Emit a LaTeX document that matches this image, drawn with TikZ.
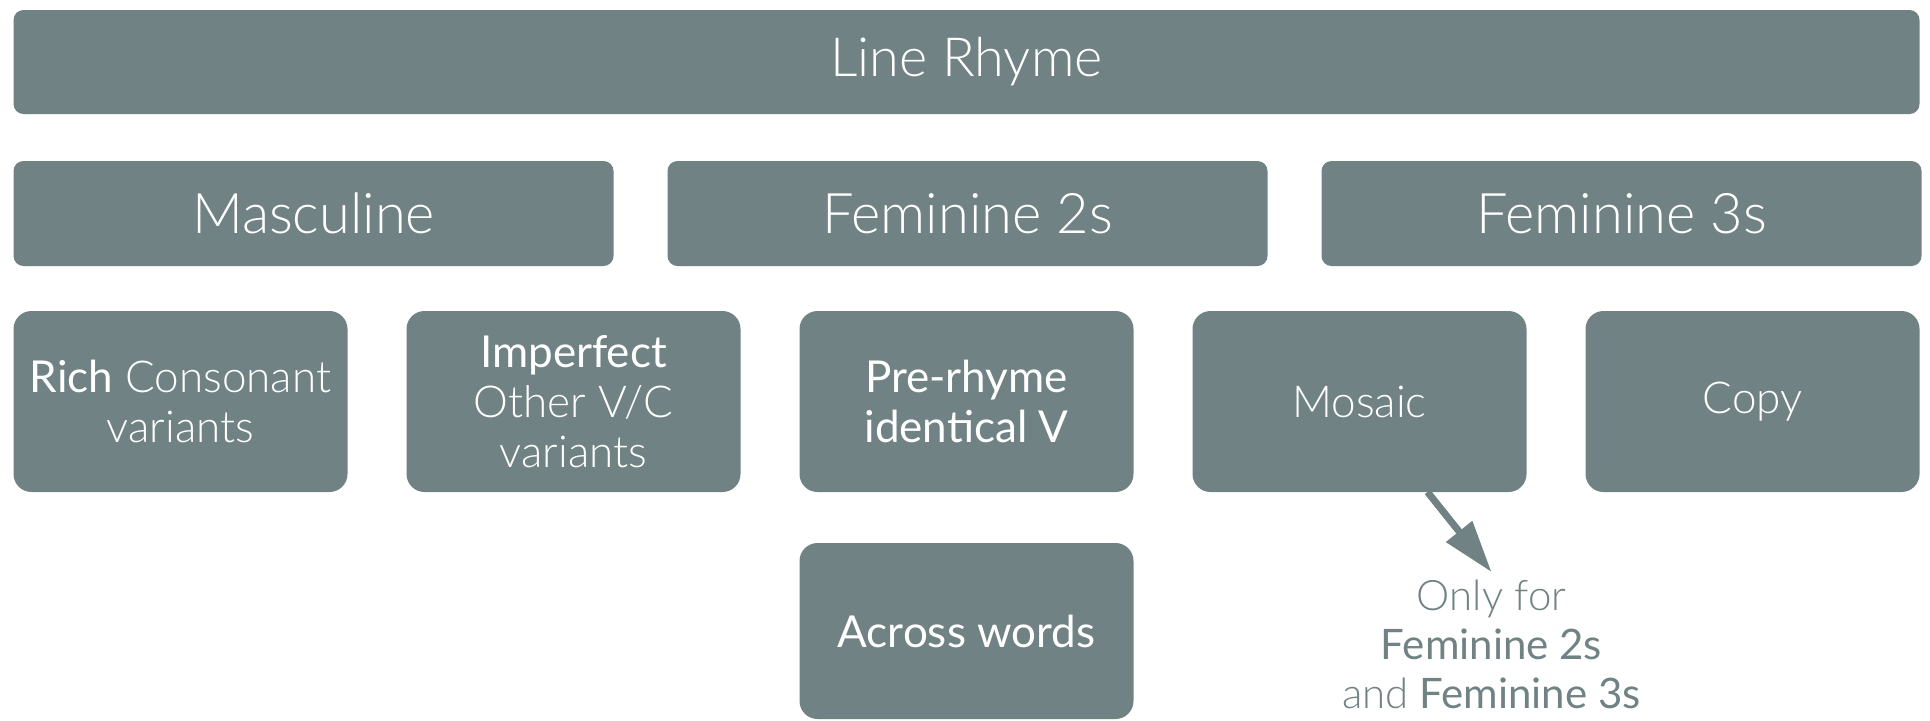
\documentclass[tikz,border=0pt]{standalone}
\usepackage{fontspec}
\usepackage{xcolor}
\usetikzlibrary{positioning,arrows.meta}
\setmainfont{Lato}
\newfontfamily\bookfont{Lato}
\newfontfamily\lightfont{Lato Light}
\definecolor{RhymeGray}{HTML}{708283}

\begin{document}
\begin{tikzpicture}[
    topbox/.style={fill=RhymeGray, text=white, rounded corners=5pt, outer sep=0pt,
      minimum width=953pt, minimum height=52pt, font=\lightfont\fontsize{27}{30}\selectfont},
    group/.style={topbox, minimum width=300pt, minimum height=52.5pt,
      font=\lightfont\fontsize{28}{30}\selectfont},
    kind/.style={fill=RhymeGray, text=white, rounded corners=9pt, outer sep=0pt,
      minimum width=167pt, minimum height=90.5pt, align=center,
      font=\lightfont\fontsize{22}{25}\selectfont},
    kindbook/.style={kind, font=\bookfont\fontsize{22}{25}\selectfont},
    note/.style={align=center, text=RhymeGray, inner sep=4pt,
      font=\bookfont\fontsize{21}{24.5}\selectfont},
    arrow/.style={-{Triangle[length=26pt, width=16pt]}, line width=3.5pt, color=RhymeGray}
  ]
    \useasboundingbox (0,0) rectangle (965pt,-360pt);
    \node[topbox, anchor=north west] (rhyme) at (6.75pt,-5pt) {Line Rhyme};
    \node[group, below=23.5pt of rhyme.south west, anchor=north west] (masc) {Masculine};
    \node[group, right=27pt of masc] (fem2) {Feminine 2s};
    \node[group, right=27pt of fem2] (fem3) {Feminine 3s};
    \node[kind, below=22.5pt of masc.south west, anchor=north west] (rich)
      {{\bookfont Rich} Consonant\\variants};
    \node[kind, right=29.5pt of rich] (imperf) {{\bookfont Imperfect}\\Other V/C\\variants};
    \node[kindbook, right=29.5pt of imperf] (prerhyme) {Pre-rhyme\\identical V};
    \node[kind, right=29.5pt of prerhyme] (mosaic) {Mosaic};
    \node[kind, right=29.5pt of mosaic] (copy) {Copy};
    \node[kindbook, below=25.5pt of prerhyme, minimum height=88pt] (across) {Across words};
    \node[note, anchor=north] (only) at ([xshift=66pt, yshift=-40pt]mosaic.south)
      {{\lightfont Only for}\\Feminine 2s\\{\lightfont and} Feminine 3s};
    \draw[arrow] ([xshift=34pt]mosaic.south) -- (only.north);
  \end{tikzpicture}
\end{document}
